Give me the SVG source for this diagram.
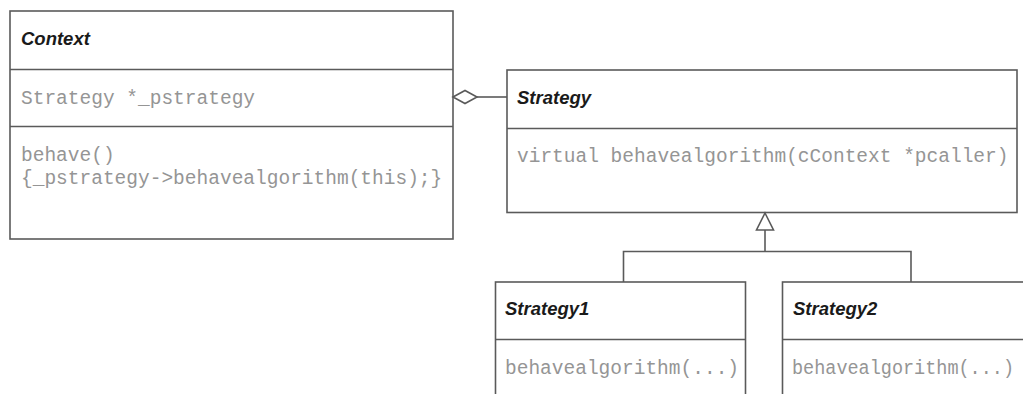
<svg xmlns="http://www.w3.org/2000/svg" width="1023" height="394" viewBox="0 0 1023 394">
  <style>
    .box { fill: #ffffff; stroke: #5a5a5a; stroke-width: 1.6; }
    .sep { stroke: #5a5a5a; stroke-width: 1.6; }
    .title { font-family: "Liberation Sans", Arial, sans-serif; font-weight: bold; font-style: italic; font-size: 18.5px; fill: #1a1a1a; }
    .code { font-family: "Liberation Mono", "Courier New", monospace; font-size: 19.5px; fill: #959595; }
    .link { fill: none; stroke: #5a5a5a; stroke-width: 1.6; }
  </style>
  <rect width="1023" height="394" fill="#ffffff"/>

  <!-- Context class -->
  <g id="context">
    <rect class="box" x="10" y="11" width="443" height="228"/>
    <line class="sep" x1="10" y1="69.5" x2="453" y2="69.5"/>
    <line class="sep" x1="10" y1="126.5" x2="453" y2="126.5"/>
    <text class="title" x="21" y="45">Context</text>
    <text class="code" x="21" y="104">Strategy *_pstrategy</text>
    <text class="code" x="21" y="161">behave()</text>
    <text class="code" x="21" y="184">{_pstrategy-&gt;behavealgorithm(this);}</text>
  </g>

  <!-- Strategy interface -->
  <g id="strategy">
    <rect class="box" x="507" y="70" width="510" height="142.5"/>
    <line class="sep" x1="507" y1="128.5" x2="1017" y2="128.5"/>
    <text class="title" x="517" y="104">Strategy</text>
    <text class="code" x="517" y="162">virtual behavealgorithm(cContext *pcaller)</text>
  </g>

  <!-- Concrete strategies -->
  <g id="strategy1">
    <rect class="box" x="495.5" y="282" width="250" height="130"/>
    <line class="sep" x1="495.5" y1="339.5" x2="745.5" y2="339.5"/>
    <text class="title" x="505" y="315">Strategy1</text>
    <text class="code" x="505" y="374">behavealgorithm(...)</text>
  </g>

  <g id="strategy2">
    <rect class="box" x="782.5" y="282" width="260" height="130"/>
    <line class="sep" x1="782.5" y1="339.5" x2="1042.5" y2="339.5"/>
    <text class="title" x="793" y="315">Strategy2</text>
    <text class="code" x="792" y="374" textLength="222" lengthAdjust="spacingAndGlyphs">behavealgorithm(...)</text>
  </g>

  <!-- Connectors -->
  <g id="connectors">
    <!-- aggregation: Context holds a Strategy -->
    <polygon class="link" style="fill:#ffffff" points="453,97 465,90.5 477,97 465,103.5"/>
    <line class="link" x1="477" y1="97" x2="507" y2="97"/>
    <!-- generalization: Strategy1 / Strategy2 derive from Strategy -->
    <polyline class="link" points="623.5,282 623.5,251.5 911,251.5 911,282"/>
    <line class="link" x1="765" y1="251.5" x2="765" y2="230"/>
    <polygon class="link" style="fill:#ffffff" points="765,213 773.5,230 756.5,230"/>
  </g>
</svg>
